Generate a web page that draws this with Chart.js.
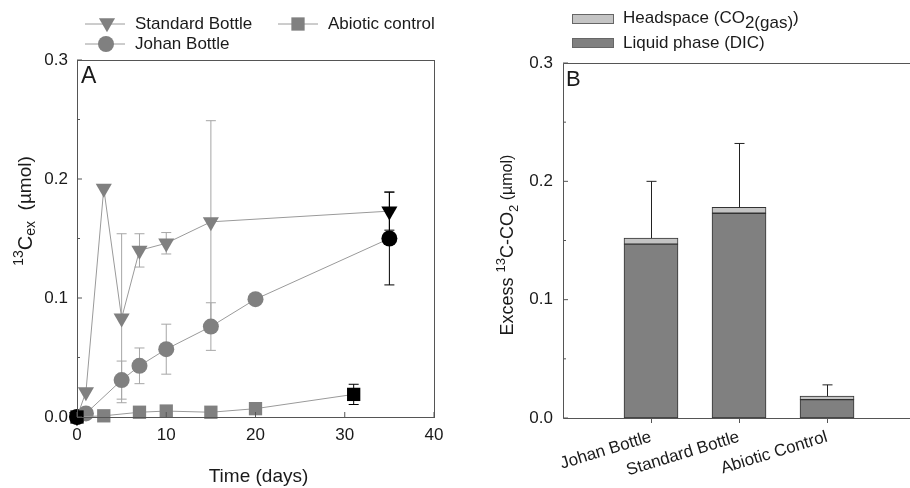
<!DOCTYPE html>
<html>
<head>
<meta charset="utf-8">
<script src="https://cdn.jsdelivr.net/npm/chart.js@4.4.1/dist/chart.umd.min.js"></script>
<style>
  html, body { margin: 0; padding: 0; background: #fff; width: 910px; height: 488px; overflow: hidden; }
  #wrapA { position: absolute; left: 0; top: 0; width: 455px; height: 488px; }
  #wrapB { position: absolute; left: 460px; top: 0; width: 470px; height: 488px; }
</style>
</head>
<body>
<div id="wrapA"><canvas id="chartA" width="455" height="488"></canvas></div>
<div id="wrapB"><canvas id="chartB" width="470" height="488"></canvas></div>
<script>
// --- DATA: panel A (time course) ---
const standardDays   = [0, 1, 3, 5, 7, 10, 15, 35];
const standardValues = [0, 0.021, 0.192, 0.083, 0.140, 0.146, 0.164, 0.173];
const standardErrors = [0, 0, 0, 0.071, 0.014, 0.009, 0.085, 0.016];

const johanDays   = [0, 1, 5, 7, 10, 15, 20, 35];
const johanValues = [0, 0.003, 0.031, 0.043, 0.057, 0.076, 0.099, 0.150];
const johanErrors = [0, 0, 0.016, 0.015, 0.021, 0.020, 0, 0.039];

const abioticDays   = [0, 3, 7, 10, 15, 20, 31];
const abioticValues = [0, 0.001, 0.004, 0.005, 0.004, 0.007, 0.019];
const abioticErrors = [0, 0, 0, 0, 0, 0, 0.0085];

const timeTicks = [0, 10, 20, 30, 40];
const amountTicks = [0, 0.1, 0.2, 0.3];

// --- DATA: panel B (bars) ---
const bottleNames  = ['Johan Bottle', 'Standard Bottle', 'Abiotic Control'];
const liquidPhase  = [0.147, 0.173, 0.0155];
const headspace    = [0.005, 0.005, 0.003];
const bottleErrors = [0.048, 0.054, 0.0095];

const FONT = '"Liberation Sans", Arial, sans-serif';
const TEXT = '#1a1a1a';
const MARK = '#808080';
const LINE = '#9a9a9a';

// --- HELPERS ---
function toPoints(days, vals) {
  return days.map((d, i) => ({ x: d, y: vals[i] }));
}
// first and last points of every series are black in the reference
function endColors(n) {
  return Array.from({ length: n }, (_, i) => (i === 0 || i === n - 1) ? '#000' : MARK);
}

function richText(ctx, parts, x, y, opts) {
  opts = opts || {};
  ctx.save();
  ctx.translate(x, y);
  if (opts.vertical) ctx.rotate(-Math.PI / 2);
  let total = 0;
  parts.forEach(p => { ctx.font = p.size + 'px ' + FONT; total += ctx.measureText(p.t).width; });
  let cx = opts.left ? 0 : -total / 2;
  ctx.textBaseline = 'middle';
  ctx.textAlign = 'left';
  ctx.fillStyle = TEXT;
  parts.forEach(p => {
    ctx.font = p.size + 'px ' + FONT;
    ctx.fillText(p.t, cx, p.dy || 0);
    cx += ctx.measureText(p.t).width;
  });
  ctx.restore();
}

function marker(ctx, style, x, y, r, color) {
  ctx.save();
  ctx.fillStyle = color;
  ctx.beginPath();
  if (style === 'circle') {
    ctx.arc(x, y, r, 0, Math.PI * 2);
  } else if (style === 'rect') {
    const s = r * Math.SQRT1_2;
    ctx.rect(x - s, y - s, 2 * s, 2 * s);
  } else {
    // downward triangle
    const w = r * Math.sin(Math.PI / 3);
    ctx.moveTo(x - w, y - r / 2);
    ctx.lineTo(x + w, y - r / 2);
    ctx.lineTo(x, y + r);
    ctx.closePath();
  }
  ctx.fill();
  ctx.restore();
}

function innerTicks(ctx, scale, values, len, vertical, area) {
  ctx.beginPath();
  values.forEach(v => {
    const p = scale.getPixelForValue(v);
    if (vertical) { ctx.moveTo(area.left, p); ctx.lineTo(area.left + len, p); }
    else { ctx.moveTo(p, area.bottom); ctx.lineTo(p, area.bottom - len); }
  });
  ctx.stroke();
}

function midpoints(arr) {
  const out = [];
  for (let i = 0; i < arr.length - 1; i++) out.push((arr[i] + arr[i + 1]) / 2);
  return out;
}

// --- ERROR BAR PLUGIN (panel A) ---
const errorBarsA = {
  id: 'errorBarsA',
  beforeDatasetsDraw(chart) {
    const ctx = chart.ctx;
    const xs = chart.scales.x, ys = chart.scales.y;
    ctx.save();
    ctx.lineWidth = 1;
    chart.data.datasets.forEach(ds => {
      const n = ds.data.length;
      ds.data.forEach((pt, i) => {
        const e = ds.errors[i];
        if (!e) return;
        const x = xs.getPixelForValue(pt.x);
        const y1 = ys.getPixelForValue(pt.y + e);
        const y2 = ys.getPixelForValue(Math.max(pt.y - e, 0));
        ctx.strokeStyle = (i === n - 1) ? '#000' : '#a6a6a6';
        ctx.beginPath();
        ctx.moveTo(x, y1); ctx.lineTo(x, y2);
        ctx.moveTo(x - 5, y1); ctx.lineTo(x + 5, y1);
        ctx.moveTo(x - 5, y2); ctx.lineTo(x + 5, y2);
        ctx.stroke();
      });
    });
    ctx.restore();
  }
};

// --- FRAME, TICKS, TITLES, LEGEND (panel A) ---
const decorA = {
  id: 'decorA',
  afterDraw(chart) {
    const ctx = chart.ctx, a = chart.chartArea;
    ctx.save();
    ctx.strokeStyle = '#555';
    ctx.lineWidth = 1;
    ctx.strokeRect(a.left + 0.5, a.top + 0.5, a.right - a.left, a.bottom - a.top);
    innerTicks(ctx, chart.scales.y, amountTicks, 5, true, a);
    innerTicks(ctx, chart.scales.y, midpoints(amountTicks), 3, true, a);
    innerTicks(ctx, chart.scales.x, timeTicks, 5, false, a);

    ctx.fillStyle = TEXT;
    ctx.font = '23px ' + FONT;
    ctx.textBaseline = 'top';
    ctx.fillText('A', 81, 65);

    richText(ctx, [{ t: 'Time (days)', size: 19 }], (a.left + a.right) / 2 + 3, 477);
    richText(ctx, [
      { t: '13', size: 14, dy: -7 },
      { t: 'C', size: 20 },
      { t: 'ex', size: 14, dy: 5 },
      { t: '  (µmol)', size: 19 }
    ], 26, 211, { vertical: true });

    // legend
    ctx.strokeStyle = LINE;
    ctx.beginPath();
    ctx.moveTo(85, 24); ctx.lineTo(125, 24);
    ctx.moveTo(85, 44); ctx.lineTo(125, 44);
    ctx.moveTo(278, 24); ctx.lineTo(318, 24);
    ctx.stroke();
    marker(ctx, 'triangle', 107, 23, 9.3, MARK);
    marker(ctx, 'circle', 106, 44, 8, MARK);
    marker(ctx, 'rect', 298, 24, 9.4, MARK);
    richText(ctx, [{ t: 'Standard Bottle', size: 17 }], 135, 24, { left: true });
    richText(ctx, [{ t: 'Johan Bottle', size: 17 }], 135, 44, { left: true });
    richText(ctx, [{ t: 'Abiotic control', size: 17 }], 328, 24, { left: true });
    ctx.restore();
  }
};

const chartA = new Chart(document.getElementById('chartA'), {
  type: 'line',
  data: {
    datasets: [
      {
        label: 'Abiotic control',
        data: toPoints(abioticDays, abioticValues),
        errors: abioticErrors,
        pointStyle: 'rect', pointRadius: 9.4,
        pointBackgroundColor: endColors(abioticDays.length),
        pointBorderWidth: 0
      },
      {
        label: 'Johan Bottle',
        data: toPoints(johanDays, johanValues),
        errors: johanErrors,
        pointStyle: 'circle', pointRadius: 8,
        pointBackgroundColor: endColors(johanDays.length),
        pointBorderWidth: 0
      },
      {
        label: 'Standard Bottle',
        data: toPoints(standardDays, standardValues),
        errors: standardErrors,
        pointStyle: 'triangle', pointRadius: 9.3, pointRotation: 180,
        pointBackgroundColor: endColors(standardDays.length),
        pointBorderWidth: 0
      }
    ].map(ds => Object.assign(ds, { borderColor: LINE, borderWidth: 1, tension: 0, clip: false }))
  },
  options: {
    responsive: false,
    animation: false,
    devicePixelRatio: 1,
    layout: { padding: { top: 60, right: 21, left: 0, bottom: 0 } },
    plugins: { legend: { display: false }, tooltip: { enabled: false } },
    scales: {
      x: {
        type: 'linear', min: 0, max: 40,
        afterBuildTicks: s => { s.ticks = timeTicks.map(v => ({ value: v })); },
        afterFit: s => { s.height = 71; },
        grid: { display: false, drawTicks: false },
        border: { display: false },
        ticks: { color: TEXT, font: { family: FONT, size: 17 }, padding: 8 }
      },
      y: {
        type: 'linear', min: 0, max: 0.3,
        afterBuildTicks: s => { s.ticks = amountTicks.map(v => ({ value: v })); },
        afterFit: s => { s.width = 77; },
        grid: { display: false, drawTicks: false },
        border: { display: false },
        ticks: { color: TEXT, font: { family: FONT, size: 17 }, padding: 9, callback: v => v.toFixed(1) }
      }
    }
  },
  plugins: [errorBarsA, decorA]
});

// --- PANEL B ---
const slotsB = ['', ...bottleNames, ''];
const padB = arr => [null, ...arr, null];

const decorB = {
  id: 'decorB',
  afterDatasetsDraw(chart) {
    const ctx = chart.ctx, xs = chart.scales.x, ys = chart.scales.y;
    ctx.save();
    ctx.strokeStyle = '#222';
    ctx.lineWidth = 1;
    bottleNames.forEach((name, i) => {
      const x = Math.round(xs.getPixelForValue(i + 1)) + 0.5;
      const y1 = ys.getPixelForValue(liquidPhase[i] + headspace[i]);
      const y2 = ys.getPixelForValue(liquidPhase[i] + headspace[i] + bottleErrors[i]);
      ctx.beginPath();
      ctx.moveTo(x, y1); ctx.lineTo(x, y2);
      ctx.moveTo(x - 5, y2); ctx.lineTo(x + 5, y2);
      ctx.stroke();
    });
    ctx.restore();
  },
  afterDraw(chart) {
    const ctx = chart.ctx, a = chart.chartArea, xs = chart.scales.x;
    ctx.save();
    ctx.strokeStyle = '#555';
    ctx.lineWidth = 1;
    ctx.beginPath();
    ctx.moveTo(a.left + 0.5, a.top + 0.5); ctx.lineTo(a.left + 0.5, a.bottom + 0.5);
    ctx.lineTo(a.right + 20, a.bottom + 0.5);
    ctx.moveTo(a.left + 0.5, a.top + 0.5); ctx.lineTo(a.right + 20, a.top + 0.5);
    ctx.stroke();
    innerTicks(ctx, chart.scales.y, amountTicks, 5, true, a);
    innerTicks(ctx, chart.scales.y, midpoints(amountTicks), 3, true, a);
    ctx.beginPath();
    bottleNames.forEach((n, i) => {
      const x = Math.round(xs.getPixelForValue(i + 1)) + 0.5;
      ctx.moveTo(x, a.bottom); ctx.lineTo(x, a.bottom + 5);
    });
    ctx.stroke();

    ctx.fillStyle = TEXT;
    ctx.font = '22px ' + FONT;
    ctx.textBaseline = 'top';
    ctx.fillText('B', 106, 69);

    richText(ctx, [
      { t: 'Excess ', size: 18 },
      { t: '13', size: 13, dy: -7 },
      { t: 'C-CO', size: 18 },
      { t: '2', size: 13, dy: 6 },
      { t: ' (µmol)', size: 16 }
    ], 48, 245, { vertical: true });

    // legend
    ctx.lineWidth = 1;
    ctx.fillStyle = '#c4c4c4';
    ctx.fillRect(112.5, 14.5, 41, 9);
    ctx.strokeStyle = '#666';
    ctx.strokeRect(112.5, 14.5, 41, 9);
    ctx.fillStyle = MARK;
    ctx.fillRect(112.5, 38.5, 41, 9);
    ctx.strokeRect(112.5, 38.5, 41, 9);
    richText(ctx, [
      { t: 'Headspace (CO', size: 17 },
      { t: '2(gas)', size: 17, dy: 5 },
      { t: ')', size: 17 }
    ], 163, 18, { left: true });
    richText(ctx, [{ t: 'Liquid phase (DIC)', size: 17 }], 163, 43, { left: true });
    ctx.restore();
  }
};

const chartB = new Chart(document.getElementById('chartB'), {
  type: 'bar',
  data: {
    labels: slotsB,
    datasets: [
      {
        label: 'Liquid phase (DIC)',
        data: padB(liquidPhase),
        backgroundColor: MARK,
        borderColor: '#333',
        borderWidth: 1,
        borderSkipped: false
      },
      {
        label: 'Headspace (CO2(gas))',
        data: padB(headspace),
        backgroundColor: '#c4c4c4',
        borderColor: '#333',
        borderWidth: 1,
        borderSkipped: false
      }
    ]
  },
  options: {
    responsive: false,
    animation: false,
    devicePixelRatio: 1,
    barThickness: 54,
    layout: { padding: { top: 63, right: 11, left: 0, bottom: 0 } },
    plugins: { legend: { display: false }, tooltip: { enabled: false } },
    scales: {
      x: {
        stacked: true,
        offset: false,
        afterFit: s => { s.height = 70; },
        grid: { display: false, drawTicks: false },
        border: { display: false },
        ticks: {
          color: TEXT, font: { family: FONT, size: 17 }, padding: 9,
          autoSkip: false, maxRotation: 17, minRotation: 17
        }
      },
      y: {
        stacked: true,
        min: 0, max: 0.3,
        afterBuildTicks: s => { s.ticks = amountTicks.map(v => ({ value: v })); },
        afterFit: s => { s.width = 103; },
        grid: { display: false, drawTicks: false },
        border: { display: false },
        ticks: { color: TEXT, font: { family: FONT, size: 17 }, padding: 10, callback: v => v.toFixed(1) }
      }
    }
  },
  plugins: [decorB]
});
</script>
</body>
</html>
